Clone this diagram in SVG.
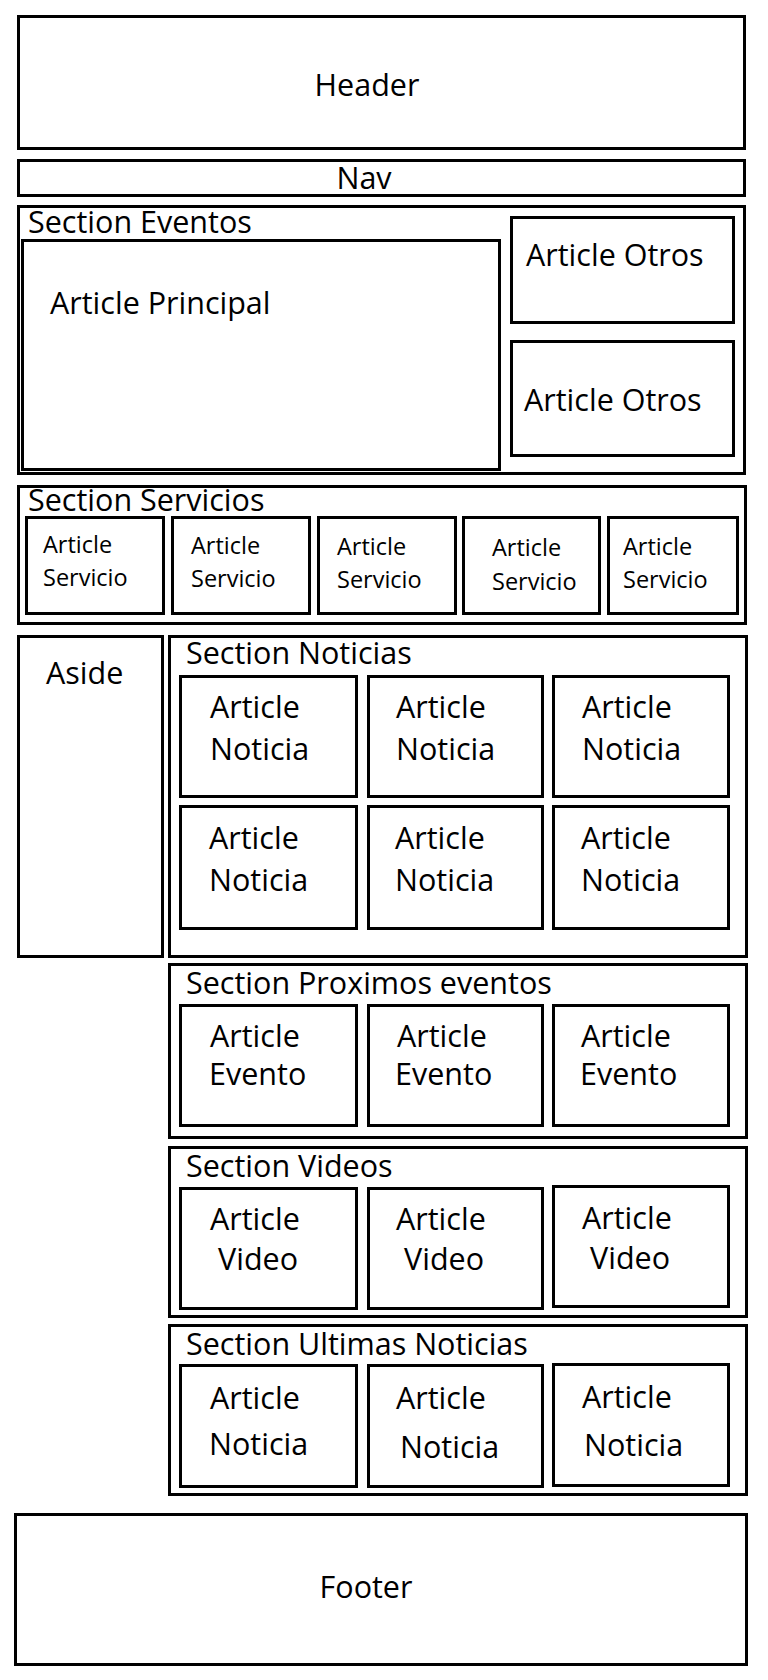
<svg xmlns="http://www.w3.org/2000/svg" width="768" height="1680" viewBox="0 0 768 1680">
<style>
rect{fill:#fff;stroke:#000;stroke-width:3}
text{font-family:"Open Sans","Noto Sans","Liberation Sans",sans-serif;font-size:30.5px;fill:#000}
.s{font-size:23.5px}
.m{text-anchor:middle}
</style>
<rect x="0" y="0" width="768" height="1680" style="stroke:none"/>
<g id="header"><rect x="18.5" y="16.5" width="726" height="132"/><text class="m" x="367" y="96">Header</text></g>
<g id="nav"><rect x="18.5" y="160.5" width="726" height="35"/><text class="m" x="364" y="189">Nav</text></g>
<g id="section-eventos"><rect x="18.5" y="206.5" width="726" height="267"/><text x="28" y="233">Section Eventos</text>
<g id="article-principal"><rect x="22.5" y="240.5" width="477" height="229"/><text x="50" y="314">Article Principal</text></g>
<g id="article-otros-1"><rect x="511.5" y="217.5" width="222" height="105"/><text x="526" y="266">Article Otros</text></g>
<g id="article-otros-2"><rect x="511.5" y="341.5" width="222" height="114"/><text x="524" y="411">Article Otros</text></g>
</g>
<g id="section-servicios"><rect x="18.5" y="486.5" width="727" height="137"/><text x="28" y="511">Section Servicios</text>
<g id="servicio-1"><rect x="26.5" y="517.5" width="137" height="96"/><text class="s" x="43" y="553">Article</text><text class="s" x="43" y="586">Servicio</text></g>
<g id="servicio-2"><rect x="172.5" y="517.5" width="137" height="96"/><text class="s" x="191" y="554">Article</text><text class="s" x="191" y="587">Servicio</text></g>
<g id="servicio-3"><rect x="318.5" y="517.5" width="137" height="96"/><text class="s" x="337" y="555">Article</text><text class="s" x="337" y="588">Servicio</text></g>
<g id="servicio-4"><rect x="463.5" y="517.5" width="136" height="96"/><text class="s" x="492" y="556">Article</text><text class="s" x="492" y="590">Servicio</text></g>
<g id="servicio-5"><rect x="608.5" y="517.5" width="129" height="96"/><text class="s" x="623" y="555">Article</text><text class="s" x="623" y="588">Servicio</text></g>
</g>
<g id="aside"><rect x="18.5" y="636.5" width="144" height="320"/><text x="46" y="684">Aside</text></g>
<g id="section-noticias"><rect x="169.5" y="636.5" width="577" height="320"/><text x="186" y="664">Section Noticias</text>
<g id="noticia-1"><rect x="180.5" y="676.5" width="176" height="120"/><text x="210" y="718">Article</text><text x="210" y="760">Noticia</text></g>
<g id="noticia-2"><rect x="368.5" y="676.5" width="174" height="120"/><text x="396" y="718">Article</text><text x="396" y="760">Noticia</text></g>
<g id="noticia-3"><rect x="553.5" y="676.5" width="175" height="120"/><text x="582" y="718">Article</text><text x="582" y="760">Noticia</text></g>
<g id="noticia-4"><rect x="180.5" y="806.5" width="176" height="122"/><text x="209" y="849">Article</text><text x="209" y="891">Noticia</text></g>
<g id="noticia-5"><rect x="368.5" y="806.5" width="174" height="122"/><text x="395" y="849">Article</text><text x="395" y="891">Noticia</text></g>
<g id="noticia-6"><rect x="553.5" y="806.5" width="175" height="122"/><text x="581" y="849">Article</text><text x="581" y="891">Noticia</text></g>
</g>
<g id="section-proximos"><rect x="169.5" y="964.5" width="577" height="173"/><text x="186" y="994">Section Proximos eventos</text>
<g id="evento-1"><rect x="180.5" y="1005.5" width="176" height="120"/><text x="210" y="1047">Article</text><text x="209" y="1085">Evento</text></g>
<g id="evento-2"><rect x="368.5" y="1005.5" width="174" height="120"/><text x="397" y="1047">Article</text><text x="395" y="1085">Evento</text></g>
<g id="evento-3"><rect x="553.5" y="1005.5" width="175" height="120"/><text x="581" y="1047">Article</text><text x="580" y="1085">Evento</text></g>
</g>
<g id="section-videos"><rect x="169.5" y="1147.5" width="577" height="169"/><text x="186" y="1177">Section Videos</text>
<g id="video-1"><rect x="180.5" y="1188.5" width="176" height="120"/><text x="210" y="1230">Article</text><text x="218" y="1270">Video</text></g>
<g id="video-2"><rect x="368.5" y="1188.5" width="174" height="120"/><text x="396" y="1230">Article</text><text x="404" y="1270">Video</text></g>
<g id="video-3"><rect x="553.5" y="1186.5" width="175" height="120"/><text x="582" y="1229">Article</text><text x="590" y="1269">Video</text></g>
</g>
<g id="section-ultimas"><rect x="169.5" y="1325.5" width="577" height="169"/><text x="186" y="1355">Section Ultimas Noticias</text>
<g id="ultima-1"><rect x="180.5" y="1365.5" width="176" height="121"/><text x="210" y="1409">Article</text><text x="209" y="1455">Noticia</text></g>
<g id="ultima-2"><rect x="368.5" y="1365.5" width="174" height="121"/><text x="396" y="1409">Article</text><text x="400" y="1458">Noticia</text></g>
<g id="ultima-3"><rect x="553.5" y="1364.5" width="175" height="121"/><text x="582" y="1408">Article</text><text x="584" y="1456">Noticia</text></g>
</g>
<g id="footer"><rect x="15.5" y="1514.5" width="731" height="150"/><text class="m" x="366" y="1598">Footer</text></g>
<g id="connectors"/>
</svg>
